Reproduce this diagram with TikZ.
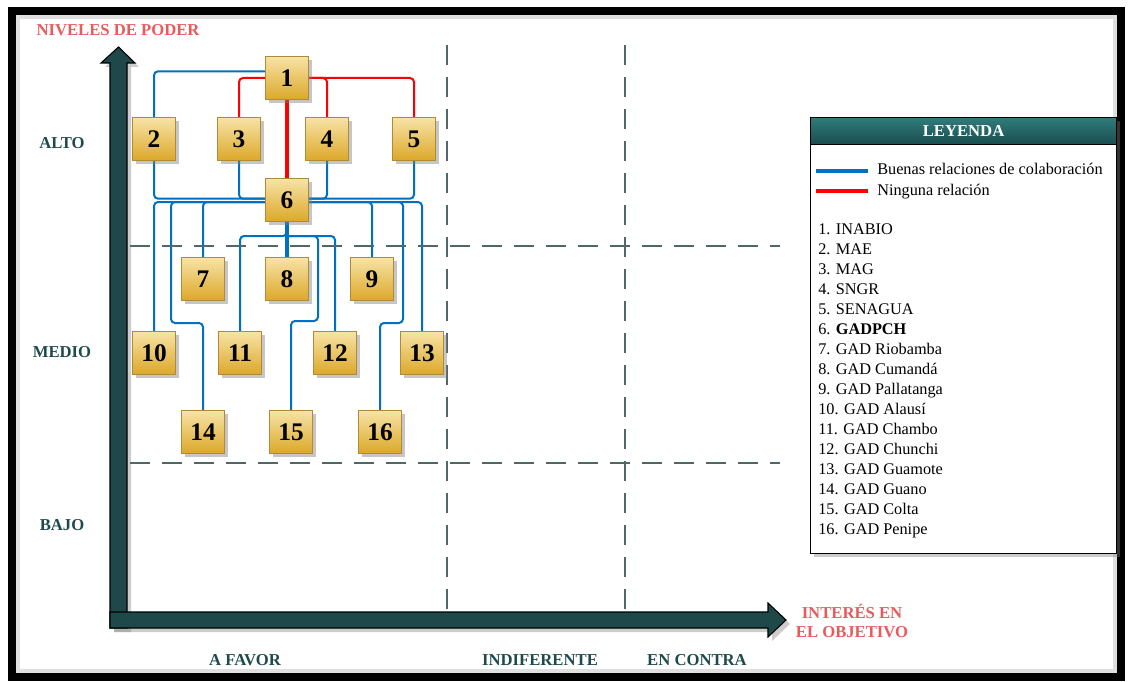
\documentclass[tikz,border=0pt]{standalone}
\usepackage{fontspec}
\setmainfont{Liberation Serif}
\usetikzlibrary{shadows,backgrounds}
\definecolor{ejecol}{HTML}{1E484A}
\definecolor{nivcol}{HTML}{1F4A4C}
\definecolor{rojotit}{HTML}{E85A5C}
\definecolor{azul}{HTML}{0070C0}
\definecolor{rojo}{HTML}{FF0000}
\definecolor{guiacol}{HTML}{506868}
\definecolor{orotop}{HTML}{F7E3A6}
\definecolor{orobot}{HTML}{DCA82A}
\definecolor{cajaborde}{HTML}{B08A36}
\definecolor{cabtop}{HTML}{2F7C7C}
\definecolor{cabbot}{HTML}{1A4C4E}
\tikzset{
  caja/.style={draw=cajaborde, line width=.8pt, top color=orotop, bottom color=orobot,
    minimum width=32pt, minimum height=32pt, inner sep=0pt,
    font=\fontsize{19}{19}\selectfont\bfseries,
    drop shadow={shadow xshift=2.5pt, shadow yshift=-2.5pt, opacity=.45}},
  rel/.style={draw=azul, line width=1.5pt, rounded corners=3pt},
  norel/.style={draw=rojo, line width=1.5pt, rounded corners=3pt},
  guia/.style={draw=guiacol, line width=1.1pt, dash pattern=on 15pt off 9pt},
  eje/.style={fill=ejecol, draw=black, line width=.8pt,
    drop shadow={shadow xshift=3pt, shadow yshift=-3pt, opacity=.4}},
  nivel/.style={text=nivcol, font=\fontsize{12.5}{14}\selectfont\bfseries},
  titulo/.style={text=rojotit, font=\fontsize{12.5}{14.5}\selectfont\bfseries, align=center},
  item/.style={anchor=west, inner sep=0pt, text height=8.5pt, text depth=2.5pt, font=\fontsize{12.2}{14}\selectfont}
}
\begin{document}
\begin{tikzpicture}[x=.75pt, y=-.75pt]
\useasboundingbox (0,0) rectangle (1130,681);
\draw[gray!25, line width=3pt] (18,17) rectangle (1115,671); % sombra interior
\draw[line width=5.5pt] (12,11) rectangle (1121,677); % marco
% ejes
\draw[eje] (110,628) -- (110,63) -- (101,63) -- (118.5,47) -- (135,63) -- (127,63) -- (127,628) -- cycle;
\draw[eje] (110,612) -- (768,612) -- (768,603) -- (786,620) -- (768,637) -- (768,628) -- (110,628) -- cycle;
% cuadrantes
\foreach \y in {246,463}{\draw[guia] (130,\y) -- (780,\y);}
\foreach \x in {447,625}{\draw[guia] (\x,45) -- (\x,620);}
% etiquetas
\node[titulo] (tpoder) at (118,30) {NIVELES DE PODER};
\node[titulo] (tinteres) at (852,621) {INTERÉS EN\\EL OBJETIVO};
\foreach \t/\y in {ALTO/143, MEDIO/352, BAJO/525}{\node[nivel] (n\t) at (62,\y) {\t};}
\node[nivel] (afavor) at (245,660) {A FAVOR};
\node[nivel] (indif) at (540,660) {INDIFERENTE};
\node[nivel] (encontra) at (697,660) {EN CONTRA};
% actores
\foreach \n/\x/\y in {1/287/78, 2/154/139, 3/239/139, 4/327/139, 5/414/139, 6/287/200,
  7/203/279, 8/287/279, 9/372/279, 10/154/353, 11/240/353, 12/335/353, 13/422/353,
  14/203/432, 15/291/432, 16/380/432}{\node[caja] (b\n) at (\x,\y) {\n};}
\coordinate (k8) at (287,236);
\coordinate (k14) at (171,323);
\coordinate (k15) at (318,321);
\coordinate (k16) at (403,323);
\begin{scope}[on background layer]
\draw[rel] ([yshift=5pt]b1.west) -| (b2.north);
\draw[norel] (b1.west) -| (b3.north);
\foreach \m in {4,5}{\draw[norel] (b1.east) -| (b\m.north);}
\draw[norel, line width=2.6pt] (b1) -- (b6);
\foreach \m in {2,3}{\draw[rel] (b\m.south) |- ([yshift=1pt]b6.west);}
\foreach \m in {4,5}{\draw[rel] (b\m.south) |- ([yshift=1pt]b6.east);}
\foreach \m in {10,7}{\draw[rel] ([yshift=-1.5pt]b6.west) -| (b\m.north);}
\draw[rel] ([yshift=-1.5pt]b6.west) -| (k14) -| (b14.north);
\foreach \m in {9,13}{\draw[rel] ([yshift=-1.5pt]b6.east) -| (b\m.north);}
\draw[rel] ([yshift=-1.5pt]b6.east) -| (k16) -| (b16.north);
\draw[rel, line width=2.6pt] (b6) -- (b8);
\draw[rel] (b6.south) -- (k8) -| (b11.north);
\draw[rel] (k8) -| (b12.north);
\draw[rel] (k8) -| (k15) -| (b15.north);
\end{scope}
% leyenda
\node[draw, fill=white, line width=.8pt, minimum width=229.5pt, minimum height=327pt, inner sep=0pt,
  anchor=north west, drop shadow={shadow xshift=2.5pt, shadow yshift=-2.5pt, opacity=.4}] (ley) at (810,117) {};
\node[draw, line width=.8pt, top color=cabtop, bottom color=cabbot, text=white, minimum width=229.5pt,
  minimum height=20.25pt, inner sep=0pt, anchor=north west, font=\fontsize{12.5}{14}\selectfont\bfseries] (cab) at (810,117) {LEYENDA};
\node[item] (tb) at (877,171) {Buenas relaciones de colaboración};
\node[item] (tr) at (877,191) {Ninguna relación};
\draw[azul, line width=3pt] ([xshift=-6.75pt]tb.west) -- ++(-52,0);
\draw[rojo, line width=3pt] ([xshift=-6.75pt]tr.west) -- ++(-52,0);
\foreach \i/\t in {1/INABIO, 2/MAE, 3/MAG, 4/SNGR, 5/SENAGUA, 6/\textbf{GADPCH}, 7/GAD Riobamba,
  8/GAD Cumandá, 9/GAD Pallatanga, 10/GAD Alausí, 11/GAD Chambo, 12/GAD Chunchi,
  13/GAD Guamote, 14/GAD Guano, 15/GAD Colta, 16/GAD Penipe}{\node[item] (it\i) at (818,{210+20*\i}) {\i. \t};}
\end{tikzpicture}
\end{document}
